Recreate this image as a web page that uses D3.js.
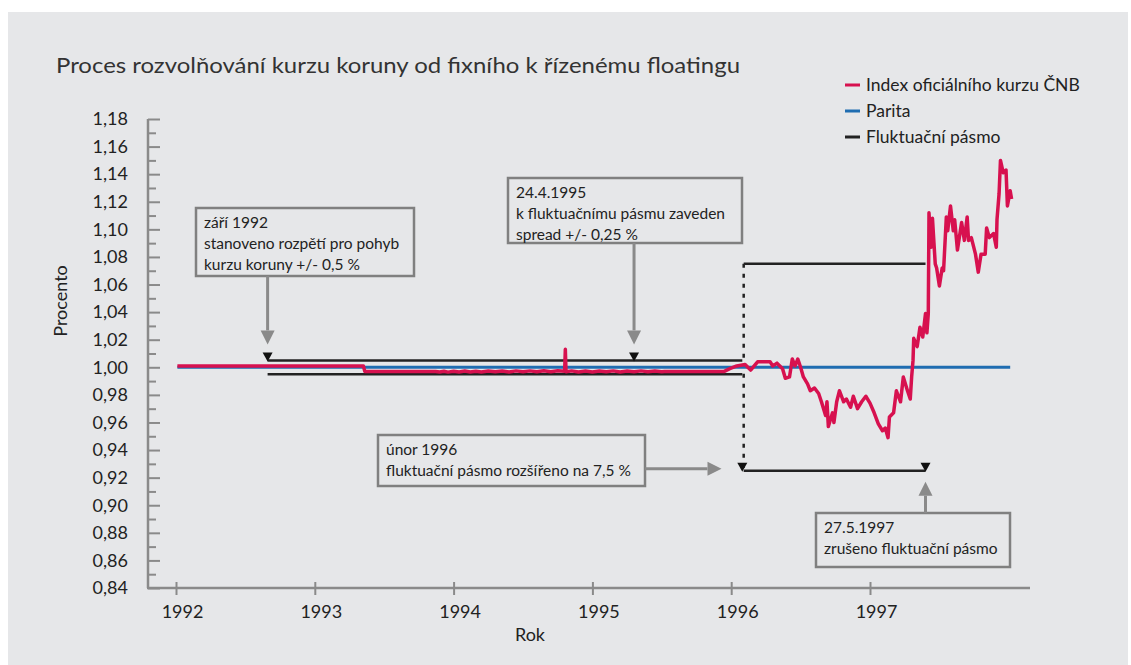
<!DOCTYPE html>
<html>
<head>
<meta charset="utf-8">
<script src="https://cdn.jsdelivr.net/npm/d3@7"></script>
<style>
  body { margin: 0; background: #fff; }
  text { font-family: Lato, "Open Sans", sans-serif; fill: #222; }
</style>
</head>
<body>
<svg id="chart" width="1131" height="665"></svg>
<script>
// index of official CZK rate (year, value)
var indexYears = [1992.01, 1993.35, 1993.36, 1993.87, 1993.9, 1993.93, 1993.96, 1994.0, 1994.04, 1994.08, 1994.12, 1994.16, 1994.2,
  1994.25, 1994.3, 1994.35, 1994.4, 1994.45, 1994.5, 1994.55, 1994.6, 1994.65, 1994.7, 1994.75, 1994.8, 1994.805, 1994.81,
  1994.85, 1994.9, 1994.95, 1995.0, 1995.05, 1995.1, 1995.15, 1995.2, 1995.25, 1995.3, 1995.35, 1995.4, 1995.45, 1995.5,
  1995.52, 1995.95, 1995.99, 1996.04, 1996.1, 1996.14, 1996.19, 1996.28, 1996.3, 1996.33, 1996.37, 1996.39, 1996.42,
  1996.44, 1996.46, 1996.48, 1996.5, 1996.52, 1996.55, 1996.57, 1996.6, 1996.63, 1996.65, 1996.68, 1996.69, 1996.7,
  1996.73, 1996.74, 1996.76, 1996.78, 1996.81, 1996.83, 1996.86, 1996.88, 1996.91, 1996.94, 1996.97, 1997.0, 1997.03,
  1997.06, 1997.09, 1997.11, 1997.13, 1997.14, 1997.17, 1997.19, 1997.22, 1997.24, 1997.27, 1997.29, 1997.3, 1997.31,
  1997.315, 1997.34, 1997.36, 1997.38, 1997.4, 1997.41, 1997.42, 1997.425, 1997.44, 1997.45, 1997.47, 1997.48, 1997.5,
  1997.52, 1997.53, 1997.55, 1997.56, 1997.58, 1997.6, 1997.61, 1997.63, 1997.66, 1997.68, 1997.7, 1997.71, 1997.73,
  1997.76, 1997.78, 1997.8, 1997.83, 1997.84, 1997.86, 1997.89, 1997.91, 1997.915, 1997.93, 1997.94, 1997.96, 1997.98,
  1997.99, 1998.01, 1998.02];
var indexValues = [1.001, 1.001, 0.997, 0.997, 0.9966, 0.9971, 0.9965, 0.9972, 0.9966, 0.9973, 0.9966, 0.9972, 0.9966,
  0.9973, 0.9967, 0.9973, 0.9966, 0.9974, 0.9968, 0.9974, 0.9967, 0.9975, 0.9968, 0.9975, 0.9972, 1.013, 0.9968,
  0.9974, 0.9966, 0.9973, 0.9966, 0.9973, 0.9967, 0.9974, 0.9966, 0.9973, 0.9967, 0.9974, 0.9967, 0.9973, 0.9968,
  0.997, 0.997, 0.999, 1.001, 1.002, 0.998, 1.004, 1.004, 1.001, 1.003, 0.999, 0.992, 0.993,
  1.006, 1.001, 1.006, 1.000, 0.993, 0.988, 0.983, 0.985, 0.981, 0.975, 0.965, 0.975, 0.957,
  0.967, 0.960, 0.975, 0.983, 0.975, 0.977, 0.971, 0.979, 0.970, 0.975, 0.979, 0.974, 0.967,
  0.959, 0.954, 0.956, 0.949, 0.964, 0.967, 0.983, 0.975, 0.993, 0.983, 0.977, 0.993, 1.005,
  1.021, 1.015, 1.029, 1.022, 1.039, 1.025, 1.039, 1.112, 1.087, 1.108, 1.075, 1.072, 1.059,
  1.072, 1.070, 1.109, 1.099, 1.117, 1.099, 1.107, 1.085, 1.105, 1.092, 1.109, 1.092, 1.094,
  1.082, 1.069, 1.082, 1.082, 1.101, 1.094, 1.097, 1.087, 1.107, 1.126, 1.150, 1.141, 1.143,
  1.117, 1.128, 1.122];

// parity
var parityYears = [1992.01, 1998.01];
var parityValues = [1.0, 1.0];

// fluctuation band: [start, end, upper, lower]
var band1 = [1992.66, 1996.08, 1.005, 0.995];
var band2 = [1996.09, 1997.40, 1.075, 0.925];
var markerYears = [1992.66, 1995.30, 1996.08, 1997.40];
var markerValues = [1.005, 1.005, 0.925, 0.925];

var xTicks = [1992, 1993, 1994, 1995, 1996, 1997];
var yTicks = [0.84, 0.86, 0.88, 0.90, 0.92, 0.94, 0.96, 0.98, 1.00, 1.02, 1.04, 1.06, 1.08, 1.10, 1.12, 1.14, 1.16, 1.18];
var yMinor = [0.85, 0.87, 0.89, 0.91, 0.93, 0.95, 0.97, 0.99, 1.01, 1.03, 1.05, 1.07, 1.09, 1.11, 1.13, 1.15, 1.17];

var legendLabels = ['Index oficiálního kurzu ČNB', 'Parita', 'Fluktuační pásmo'];
var legendColors = ['#d7114f', '#1f6db1', '#222'];

var notes = [
  {lines: ['září 1992', 'stanoveno rozpětí pro pohyb', 'kurzu koruny +/- 0,5 %'], box: [196, 208, 218, 68]},
  {lines: ['24.4.1995', 'k fluktuačnímu pásmu zaveden', 'spread +/- 0,25 %'], box: [508, 178, 234, 65]},
  {lines: ['únor 1996', 'fluktuační pásmo rozšířeno na 7,5 %'], box: [378, 435, 267, 51]},
  {lines: ['27.5.1997', 'zrušeno fluktuační pásmo'], box: [816, 513, 194, 54]}
];

var svg = d3.select('#chart');

svg.append('rect').attr('x', 8).attr('y', 12).attr('width', 1120).attr('height', 653).attr('fill', '#e6e7e9');

var x = d3.scaleLinear().domain([1992, 1997]).range([176, 870]);
var y = d3.scaleLinear().domain([0.84, 1.18]).range([588, 119]);

// title
svg.append('text').attr('x', 56).attr('y', 73).style('font-size', '22px').style('fill', '#333')
  .attr('textLength', 684).attr('lengthAdjust', 'spacingAndGlyphs')
  .text('Proces rozvolňování kurzu koruny od fixního k řízenému floatingu');

// y axis
var yAxis = d3.axisLeft(y).tickValues(yTicks).tickSizeInner(-12).tickSizeOuter(0).tickPadding(20)
  .tickFormat(function(d){ return d.toFixed(2).replace('.', ','); });
var gy = svg.append('g').attr('transform', 'translate(148,0)').call(yAxis);
gy.select('.domain').attr('stroke', '#8a8a8a').attr('stroke-width', 2.5).attr('d', 'M0,' + y(1.18) + 'V' + y(0.84));
gy.selectAll('.tick line').attr('stroke', '#8a8a8a').attr('stroke-width', 2);
gy.selectAll('.tick text').style('font-size', '18px').style('font-family', 'Lato, sans-serif').attr('fill', '#333');

var gyMinor = svg.append('g').attr('transform', 'translate(148,0)')
  .call(d3.axisLeft(y).tickValues(yMinor).tickSizeInner(-8).tickSizeOuter(0).tickFormat(''));
gyMinor.select('.domain').remove();
gyMinor.selectAll('.tick line').attr('stroke', '#8a8a8a').attr('stroke-width', 2);

// x axis
var xAxis = d3.axisBottom(x).tickValues(xTicks).tickSizeInner(7).tickSizeOuter(0).tickPadding(10).tickFormat(d3.format('d'));
var gx = svg.append('g').attr('transform', 'translate(0,' + y(0.84) + ')').call(xAxis);
gx.select('.domain').attr('stroke', '#8a8a8a').attr('stroke-width', 2.5).attr('d', 'M147,0H1030');
gx.selectAll('.tick line').attr('stroke', '#8a8a8a').attr('stroke-width', 2).attr('y1', -6);
gx.selectAll('.tick text').style('font-size', '18px').attr('fill', '#333').attr('dx', 6);

svg.append('text').attr('transform', 'translate(67,301) rotate(-90)').attr('text-anchor', 'middle')
  .style('font-size', '18px').text('Procento');
svg.append('text').attr('x', 530).attr('y', 641).attr('text-anchor', 'middle').style('font-size', '18px').text('Rok');

// bands
function drawBand(b) {
  svg.append('line').attr('x1', x(b[0])).attr('x2', x(b[1])).attr('y1', y(b[2])).attr('y2', y(b[2]))
    .attr('stroke', '#222').attr('stroke-width', 2.5);
  svg.append('line').attr('x1', x(b[0])).attr('x2', x(b[1])).attr('y1', y(b[3])).attr('y2', y(b[3]))
    .attr('stroke', '#222').attr('stroke-width', 2.5);
}
drawBand(band1);
drawBand(band2);
svg.append('line').attr('x1', x(band2[0])).attr('x2', x(band2[0])).attr('y1', y(band2[2])).attr('y2', y(band2[3]))
  .attr('stroke', '#222').attr('stroke-width', 2.5).attr('stroke-dasharray', '4,6');

// parity
var line = d3.line().x(function(d){ return x(d[0]); }).y(function(d){ return y(d[1]); });
svg.append('path').datum(d3.zip(parityYears, parityValues)).attr('d', line)
  .attr('fill', 'none').attr('stroke', legendColors[1]).attr('stroke-width', 3);

// index
svg.append('path').datum(d3.zip(indexYears, indexValues)).attr('d', line)
  .attr('fill', 'none').attr('stroke', legendColors[0]).attr('stroke-width', 3.5).attr('stroke-linejoin', 'round');

// black triangle markers
svg.selectAll('.tri').data(d3.zip(markerYears, markerValues)).enter().append('path')
  .attr('class', 'tri')
  .attr('d', 'M-5,-9L5,-9L0,0Z')
  .attr('transform', function(d){ return 'translate(' + x(d[0]) + ',' + (y(d[1]) + 1) + ')'; })
  .attr('fill', '#111');

// annotation boxes
notes.forEach(function(n) {
  var b = n.box;
  svg.append('rect').attr('x', b[0]).attr('y', b[1]).attr('width', b[2]).attr('height', b[3])
    .attr('fill', 'none').attr('stroke', '#808080').attr('stroke-width', 2.5);
  n.lines.forEach(function(t, i) {
    svg.append('text').attr('x', b[0] + 8).attr('y', b[1] + 20 + i * 21).style('font-size', '15.5px').text(t);
  });
});

// gray arrows
function arrow(x1, y1, x2, y2) {
  var ang = Math.atan2(y2 - y1, x2 - x1);
  var len = 14;
  var bx = x2 - len * Math.cos(ang), by = y2 - len * Math.sin(ang);
  svg.append('line').attr('x1', x1).attr('y1', y1).attr('x2', bx).attr('y2', by)
    .attr('stroke', '#8a8a8a').attr('stroke-width', 3);
  var px = -Math.sin(ang) * 7, py = Math.cos(ang) * 7;
  svg.append('path').attr('d', 'M' + x2 + ',' + y2 + 'L' + (bx + px) + ',' + (by + py) + 'L' + (bx - px) + ',' + (by - py) + 'Z')
    .attr('fill', '#8a8a8a');
}
arrow(x(markerYears[0]), 276, x(markerYears[0]), y(1.005) - 16);
arrow(x(markerYears[1]), 243, x(markerYears[1]), y(1.005) - 16);
arrow(645, y(0.925) - 2, x(1995.93), y(0.925) - 2);
arrow(x(markerYears[3]), 513, x(markerYears[3]), y(0.925) + 11);

// legend
var leg = svg.append('g');
legendLabels.forEach(function(l, i) {
  var yy = 85 + i * 26;
  leg.append('line').attr('x1', 845).attr('x2', 860).attr('y1', yy).attr('y2', yy)
    .attr('stroke', legendColors[i]).attr('stroke-width', 3);
  leg.append('text').attr('x', 866).attr('y', yy + 6).style('font-size', '17.5px').text(l);
});
</script>
</body>
</html>
